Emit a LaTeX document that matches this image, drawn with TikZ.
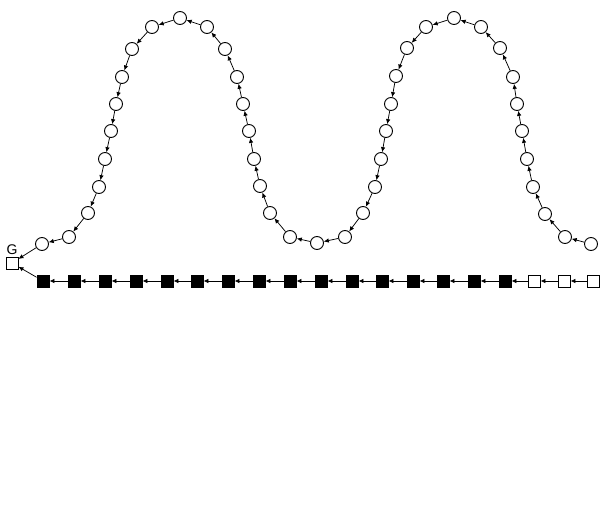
\documentclass[tikz,border=0pt]{standalone}
\usepackage{fontspec}
\setmainfont{Liberation Sans}
\usetikzlibrary{arrows.meta}
\tikzset{
  circ/.style={circle,draw,line width=0.9pt,minimum size=13pt,inner sep=0pt,fill=white},
  wsq/.style={rectangle,draw,line width=0.9pt,minimum size=12pt,inner sep=0pt,fill=white},
  bsq/.style={rectangle,draw,line width=0.9pt,minimum size=12pt,inner sep=0pt,fill=black},
  arr/.style={line width=0.75pt,-{Latex[length=5pt,width=4.5pt]}}
}
\begin{document}
\begin{tikzpicture}[x=1pt,y=-1pt]
\useasboundingbox (0,0) rectangle (605,529);
% circles chain (right to left)
\foreach \x/\y [count=\i] in {591/244,565/237,545/214,533/187,527/159,522/131,517/104,513/77,500/48,481/27,454/18,426/27,407/48,396/76,391/104,386/131,381/159,375/187,363/213,345/237,317/243,290/237,270/213,260/186,254/159,249/131,243/104,237/77,225/49,207/27,180/18,152/27,132/49,122/77,116/104,111/131,105/159,99/187,88/213,69/237,42/244}
  \node[circ] (c\i) at (\x,\y) {};
\node[wsq] (G) at (12,263) {};
\node[font=\fontsize{14}{14}\selectfont, anchor=base] (Glab) at (12,255) {G};
% bottom row squares (right to left)
\foreach \x [count=\i] in {593,564,534}
  \node[wsq] (b\i) at (\x,281) {};
\foreach \x [count=\i from 4] in {505,474,443,413,382,352,321,290,259,228,197,167,136,105,74,43}
  \node[bsq] (b\i) at (\x,281) {};
% connectors
\foreach \i [evaluate=\i as \j using int(\i+1)] in {1,...,40}
  \draw[arr] (c\i) -- (c\j);
\draw[arr] (c41) -- (G);
\foreach \i [evaluate=\i as \j using int(\i+1)] in {1,...,18}
  \draw[arr] (b\i) -- (b\j);
\draw[arr] (b19) -- (G);
\end{tikzpicture}
\end{document}
